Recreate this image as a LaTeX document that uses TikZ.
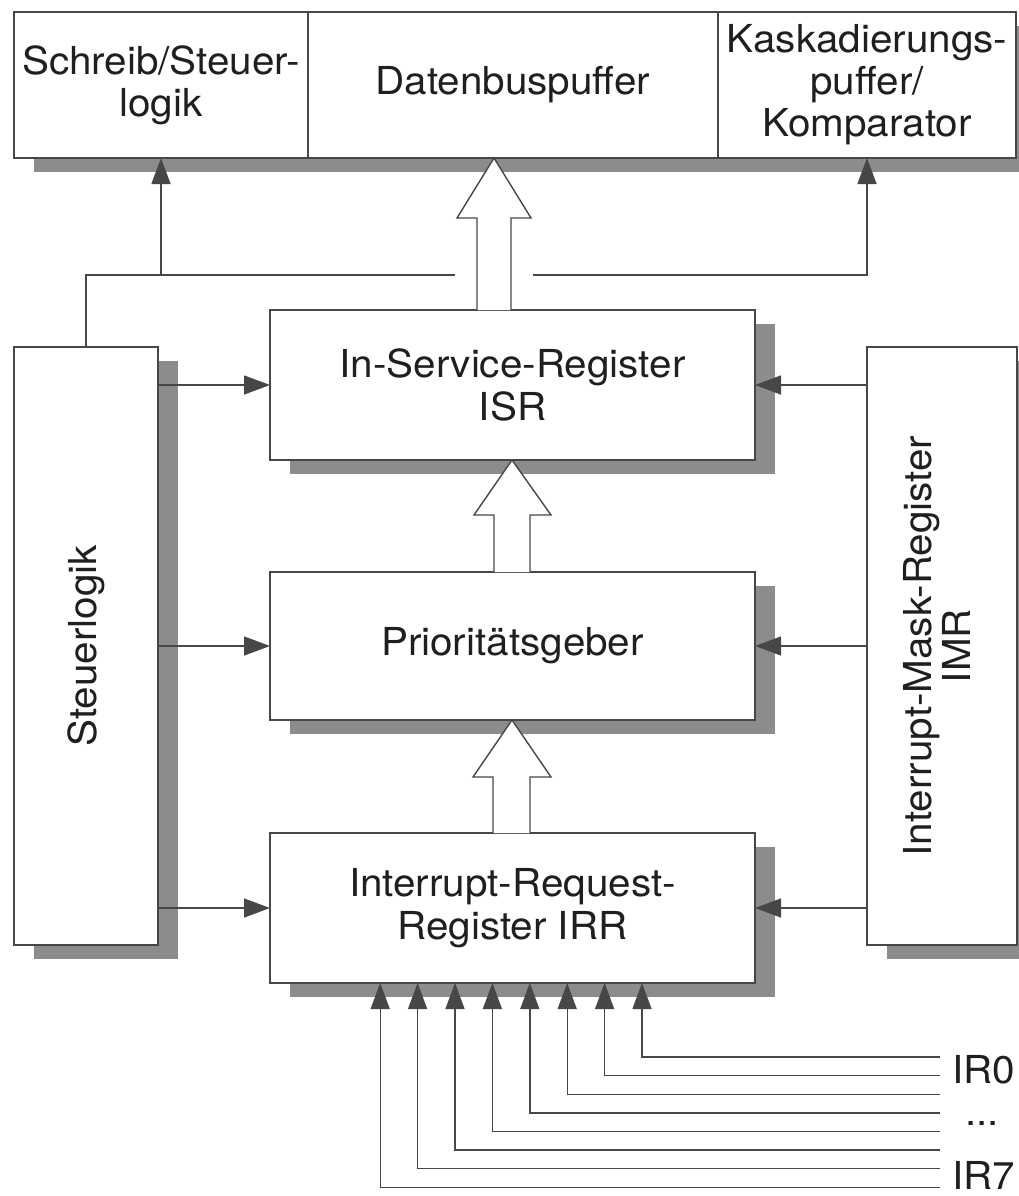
\documentclass[tikz,border=0pt]{standalone}
\usepackage{fontspec}
\usepackage{graphicx}
\setmainfont[FakeStretch=1.05]{TeX Gyre Heros}
\usetikzlibrary{arrows.meta,shadows,calc}
\definecolor{ln}{gray}{0.28}
\definecolor{sh}{gray}{0.55}
\definecolor{tx}{gray}{0.12}
\begin{document}
\begin{tikzpicture}[x=1pt,y=-1pt,
  box/.style={draw=ln,line width=1.4pt,fill=white,inner sep=0pt,outer sep=0pt,
    align=center,text=tx,font=\fontsize{38.5}{43}\selectfont,
    drop shadow={shadow xshift=20pt,shadow yshift=-14pt,fill=sh,opacity=1}},
  topbox/.style={draw=ln,line width=1.4pt,fill=white,inner sep=0pt,outer sep=0pt,
    align=center,text=tx,font=\fontsize{38.5}{42}\selectfont,minimum height=146pt,
    drop shadow={shadow xshift=20pt,shadow yshift=-14pt,fill=sh,opacity=1}},
  arr/.style={draw=ln,line width=1.4pt,-{Triangle[length=26pt,width=19pt,fill=ln]}},
  wire/.style={draw=ln,line width=1.4pt},
  hollow/.style={draw=ln,line width=1.4pt,fill=white,line join=miter},
  lbl/.style={text=tx,font=\fontsize{38.5}{43}\selectfont,inner sep=0pt,outer sep=0pt}
]
\useasboundingbox[fill=white] (0,0) rectangle (1019,1196);

% top row
\node[topbox,minimum width=294pt] (schreib) at (161,85) {Schreib/Steuer-\\logik};
\node[topbox,minimum width=410pt] (daten) at (513,85) {Datenbuspuffer};
\node[topbox,minimum width=298pt] (kask) at (867,85) {Kaskadierungs-\\puffer/\\Komparator};

% side blocks
\node[box,minimum width=144pt,minimum height=598pt] (steuer) at (86,646)
  {\rotatebox{90}{Steuerlogik}};
\node[box,minimum width=150pt,minimum height=598pt] (imr) at (942,646)
  {\rotatebox{90}{\fontsize{38.5}{35}\selectfont\begin{tabular}{@{}c@{}}Interrupt-Mask-Register\\IMR\end{tabular}}};

% central registers
\node[box,minimum width=485pt,minimum height=150pt] (isr) at (512.5,385) {In-Service-Register\\ISR};
\node[box,minimum width=485pt,minimum height=148pt] (prio) at (512.5,646) {Prioritätsgeber};
\node[box,minimum width=485pt,minimum height=150pt] (irr) at (512.5,908) {Interrupt-Request-\\Register IRR};

% control bus at top
\coordinate (gapL) at (455,275);
\coordinate (gapR) at (533,275);
\draw[wire] (steuer.north) |- (gapL);
\draw[arr] (schreib.south |- gapL) -- (schreib.south);
\draw[arr] (gapR) -| (kask.south);

% hollow data arrows
\draw[hollow] (477,310) -- (477,218) -- (457,218) -- (494,158) -- (531,218) -- (511,218) -- (511,310);
\draw[hollow] (494,572) -- (494,515) -- (474,515) -- (512,460) -- (551,515) -- (530,515) -- (530,572);
\draw[hollow] (493,833) -- (493,777) -- (473,777) -- (512,720) -- (551,777) -- (530,777) -- (530,833);

% Steuerlogik -> registers
\draw[arr] (steuer.east |- isr.west) -- (isr.west);
\draw[arr] (steuer.east |- prio.west) -- (prio.west);
\draw[arr] (steuer.east |- irr.west) -- (irr.west);

% IMR -> registers
\draw[arr] (imr.west |- isr.east) -- (isr.east);
\draw[arr] (imr.west |- prio.east) -- (prio.east);
\draw[arr] (imr.west |- irr.east) -- (irr.east);

% interrupt request lines
\foreach \k in {0,...,7}{
  \coordinate (ir\k) at (940,{1057+18.6*\k});
  \draw[arr] (ir\k) -| ($(irr.south)+({129.5-37.4*\k},0)$);
}
\node[lbl,anchor=west] (l0) at (952,1070) {IR0};
\node[lbl] (ldots) at (982,1123) {...};
\node[lbl,anchor=west] (l7) at (952,1175) {IR7};
\end{tikzpicture}
\end{document}
